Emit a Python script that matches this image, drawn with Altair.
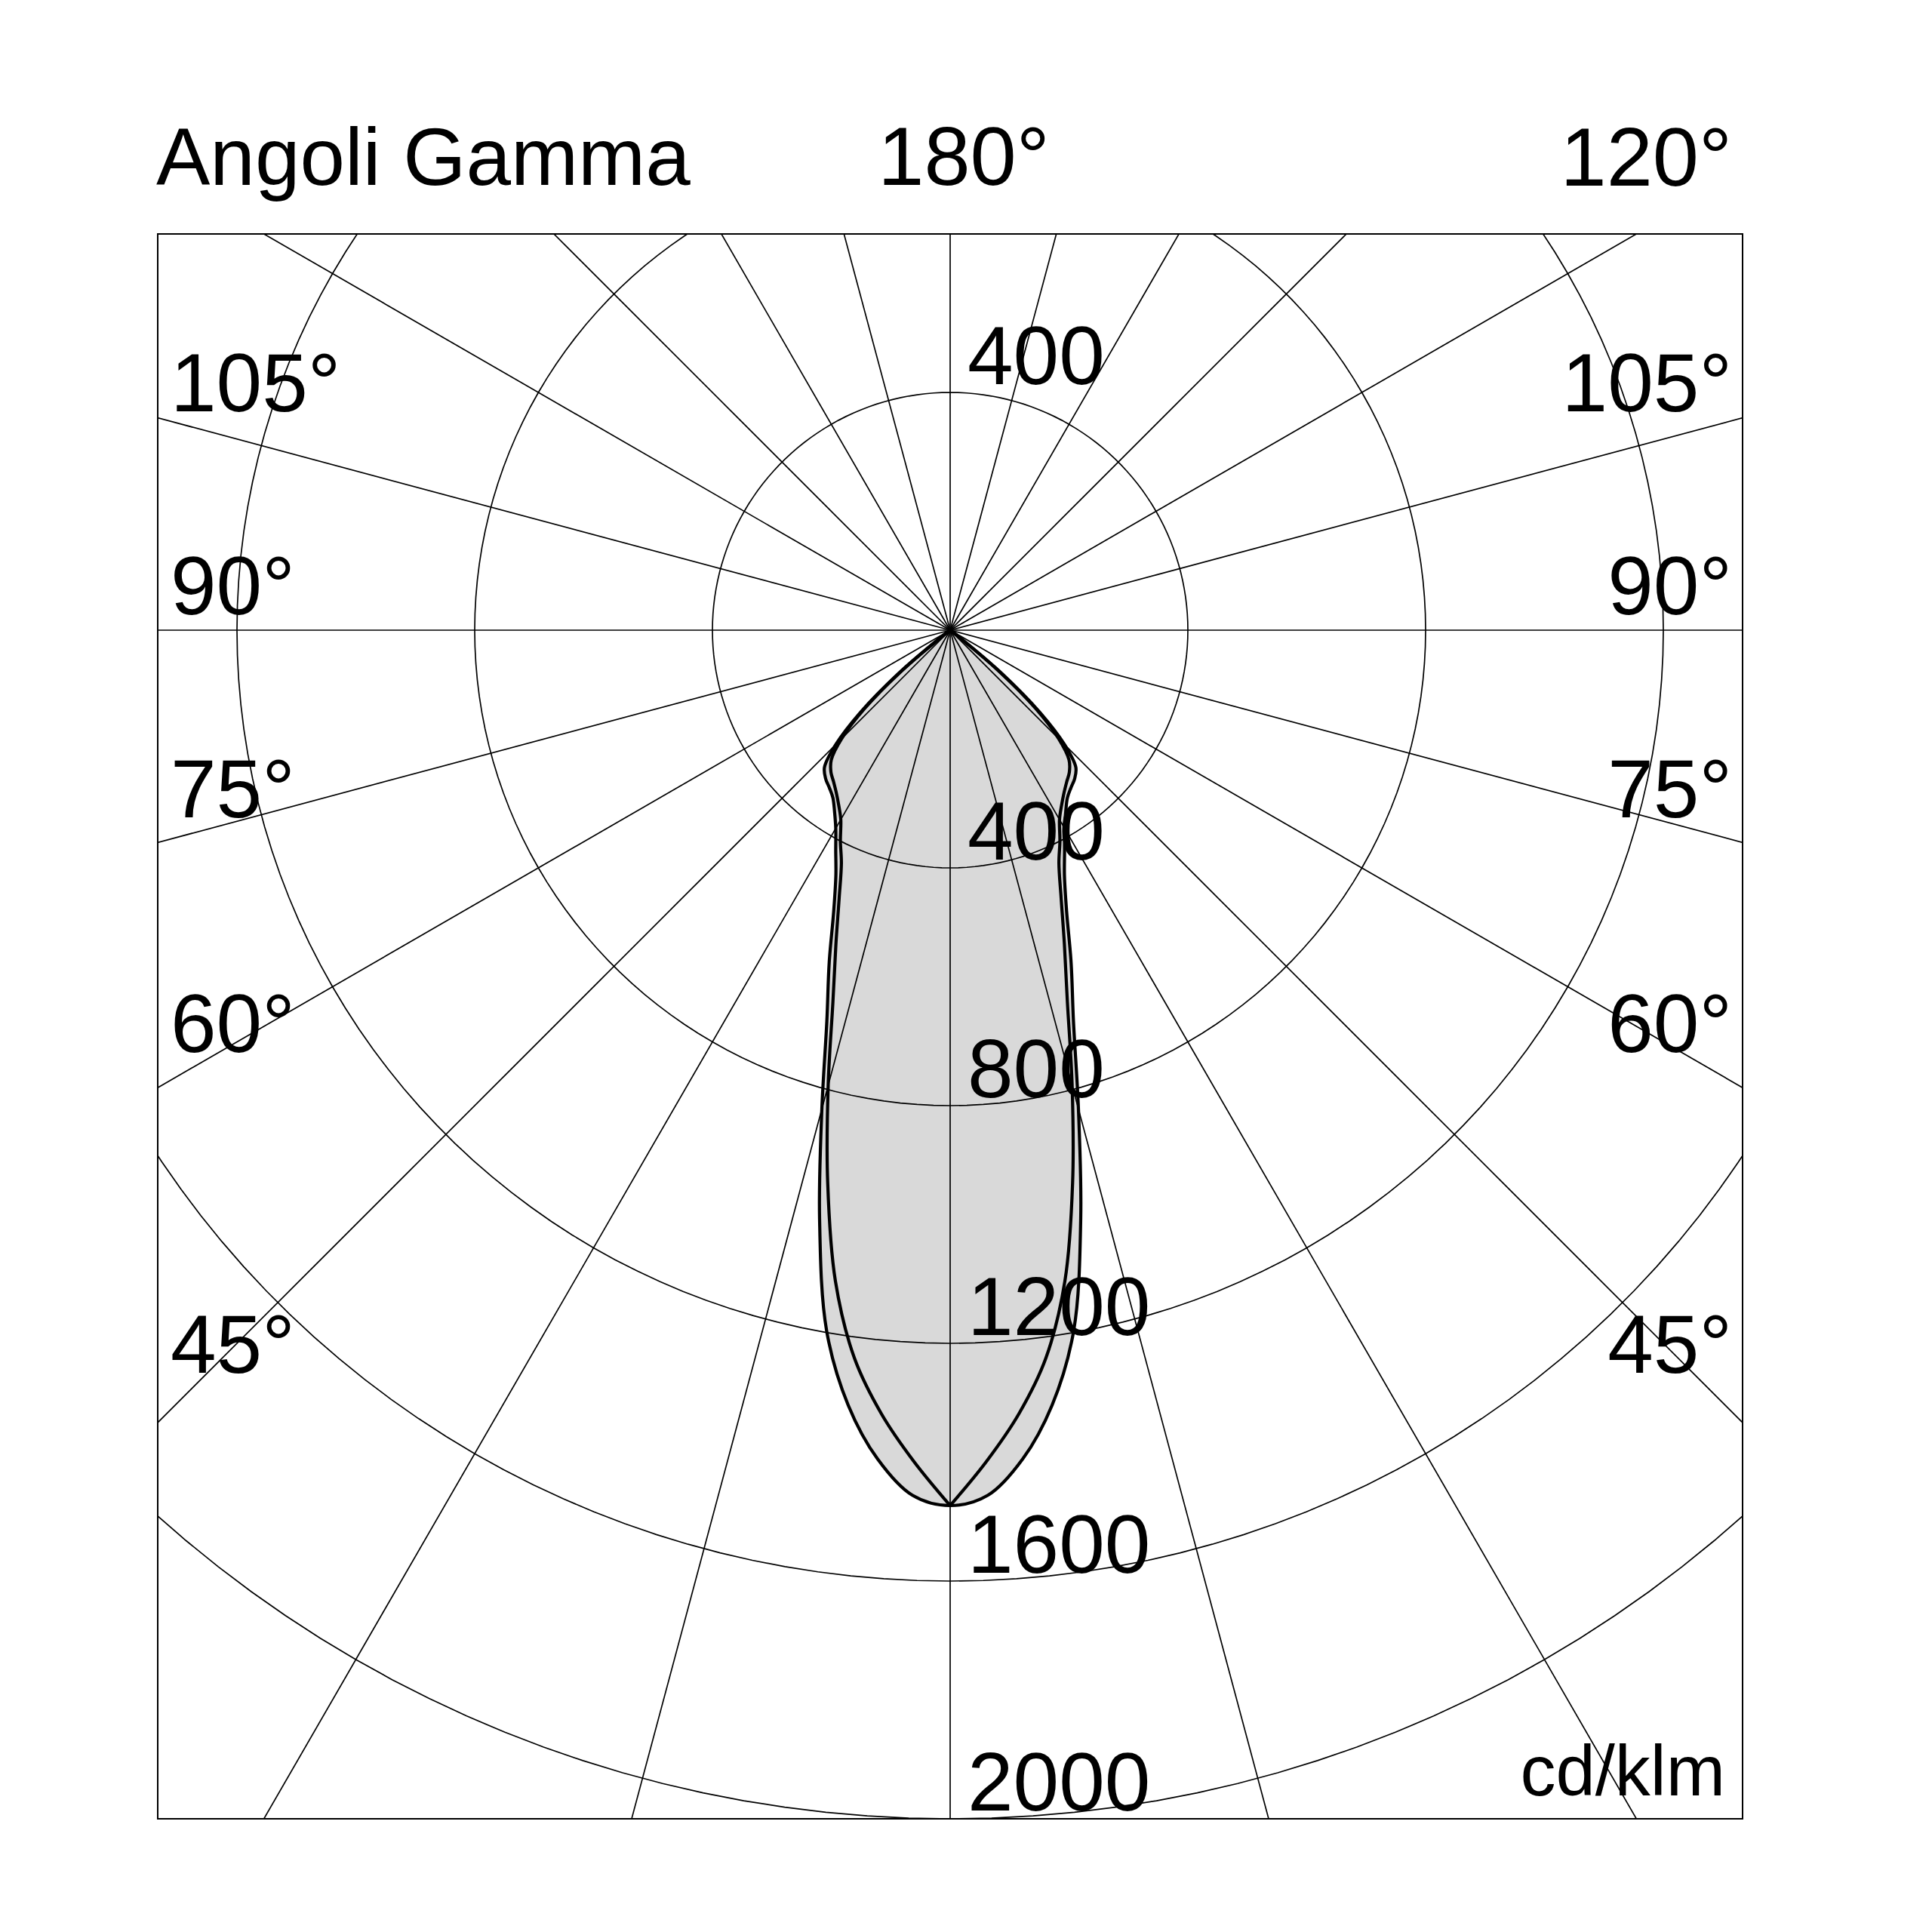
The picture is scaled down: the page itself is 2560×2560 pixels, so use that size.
import altair as alt
import pandas as pd

# Photometric polar diagram, intensities in cd/klm.
# Gamma angles in degrees, 0 = straight down (nadir).
gamma = [0, 2.5, 5, 7.5, 10, 12.5, 15, 17.5, 20, 22.5, 25, 27.5, 30,
         32.5, 35, 37.5, 40, 42.5, 45, 47.5, 50, 52.5, 55]
# C0-C180 plane (wide, rounded beam end)
c0_c180 = [1473, 1457, 1400, 1315, 1197, 1015, 834, 690, 595, 512, 455, 417, 385,
           362, 344, 334, 326, 313, 272, 205, 115, 20, 0]
# C90-C270 plane (narrow, pointed beam end)
c90_c270 = [1473, 1400, 1324, 1235, 1112, 952, 793, 656, 562, 488, 433, 400, 368,
            349, 334, 322, 312, 296, 258, 195, 105, 12, 0]

ring_values = [400, 800, 1200, 1600, 2000]
upper_ring_values = [400]
spoke_angles = list(range(0, 360, 15))
side_angles = [105, 90, 75, 60, 45]

FONT = "Liberation Sans"
X_SCALE = alt.Scale(domain=[-4000 / 3, 4000 / 3], nice=False, zero=False)
Y_SCALE = alt.Scale(domain=[-2000, 2000 / 3], nice=False, zero=False)


def xq(field):
    return alt.X(f"{field}:Q", scale=X_SCALE, axis=None)


def yq(field):
    return alt.Y(f"{field}:Q", scale=Y_SCALE, axis=None)


# --- curve table. The C0-C180 plane is one continuous path (smooth nadir);
# the C90-C270 plane is split into its two halves so the nadir stays a cusp.
rows = []
seq = 0
for g, v in zip(reversed(gamma), reversed(c0_c180)):
    rows.append({"part": "C0-C180", "gamma": g, "side": -1, "intensity": v, "seq": seq})
    seq += 1
for g, v in zip(gamma[1:], c0_c180[1:]):
    rows.append({"part": "C0-C180", "gamma": g, "side": 1, "intensity": v, "seq": seq})
    seq += 1
for part, side in [("C270", -1), ("C90", 1)]:
    for i, (g, v) in enumerate(zip(gamma, c90_c270)):
        rows.append({"part": part, "gamma": g, "side": side, "intensity": v, "seq": i})
curves = pd.DataFrame(rows)

curve_base = alt.Chart(curves).transform_calculate(
    px="datum.side * datum.intensity * sin(datum.gamma * PI / 180)",
    py="-datum.intensity * cos(datum.gamma * PI / 180)",
)

curve_fill = curve_base.mark_line(
    fill="#d9d9d9", strokeOpacity=0, interpolate="catmull-rom"
).encode(x=xq("px"), y=yq("py"), detail="part:N", order="seq:Q")

curve_outline = curve_base.mark_line(
    color="black", strokeWidth=4.2, interpolate="catmull-rom"
).encode(x=xq("px"), y=yq("py"), detail="part:N", order="seq:Q")

# --- concentric intensity rings
ring_rows = [{"r": r, "t": t} for r in ring_values for t in range(0, 361, 2)]
rings = alt.Chart(pd.DataFrame(ring_rows)).transform_calculate(
    rx="datum.r * sin(datum.t * PI / 180)",
    ry="datum.r * cos(datum.t * PI / 180)",
).mark_line(color="black", strokeWidth=1.7, clip=True).encode(
    x=xq("rx"), y=yq("ry"), detail="r:N", order="t:Q"
)

# --- radial spokes every 15 degrees
spokes = alt.Chart(pd.DataFrame({"a": spoke_angles})).transform_calculate(
    x0="0", y0="0",
    x1="4000 * sin(datum.a * PI / 180)",
    y1="-4000 * cos(datum.a * PI / 180)",
).mark_rule(color="black", strokeWidth=1.7, clip=True).encode(
    x=xq("x0"), y=yq("y0"), x2="x1:Q", y2="y1:Q"
)

# --- ring value labels
ring_label_df = pd.DataFrame(
    {"v": ring_values + upper_ring_values,
     "s": [-1] * len(ring_values) + [1] * len(upper_ring_values)}
)
ring_labels = alt.Chart(ring_label_df).transform_calculate(
    lx="0", ly="datum.s * datum.v", lab="format(datum.v, 'd')"
).mark_text(
    font=FONT, fontSize=109, align="left", baseline="alphabetic", dx=23, dy=-11, color="black"
).encode(x=xq("lx"), y=yq("ly"), text="lab:N")

# --- gamma angle labels along both sides
side_df = pd.DataFrame({"g": side_angles})
side_base = alt.Chart(side_df).transform_calculate(
    ly="-1276 * cos(datum.g * PI / 180) / sin(datum.g * PI / 180)",
    lab="datum.g + '\u00b0'",
)
left_labels = side_base.mark_text(
    font=FONT, fontSize=109, align="left", baseline="alphabetic", dy=-21, color="black"
).encode(x=alt.value(17), y=yq("ly"), text="lab:N")
right_labels = side_base.mark_text(
    font=FONT, fontSize=109, align="right", baseline="alphabetic", dy=-21, color="black"
).encode(x=alt.value(2086), y=yq("ly"), text="lab:N")


def header(text, x, y, align, size=110):
    return alt.Chart(pd.DataFrame({"t": [text]})).mark_text(
        font=FONT, fontSize=size, align=align, baseline="alphabetic", color="black"
    ).encode(x=alt.value(x), y=alt.value(y), text="t:N")


title = header("Angoli Gamma", -2, -65, "left", size=107)
top_180 = header("180\u00b0", 1068, -65, "center")
top_120 = header("120\u00b0", 2086, -64, "right")
unit = header("cd/klm", 2077, 2069, "right", size=94)

chart = alt.layer(
    curve_fill, rings, spokes, curve_outline,
    ring_labels, left_labels, right_labels,
    title, top_180, top_120, unit,
).properties(
    width=2100,
    height=2100,
    padding={"left": 209, "top": 310, "right": 251, "bottom": 151},
    autosize=alt.AutoSizeParams(type="none"),
    background="white",
).configure_view(stroke="black", strokeWidth=2)

chart.save("out.html", embed_options={"renderer": "svg", "actions": False})
